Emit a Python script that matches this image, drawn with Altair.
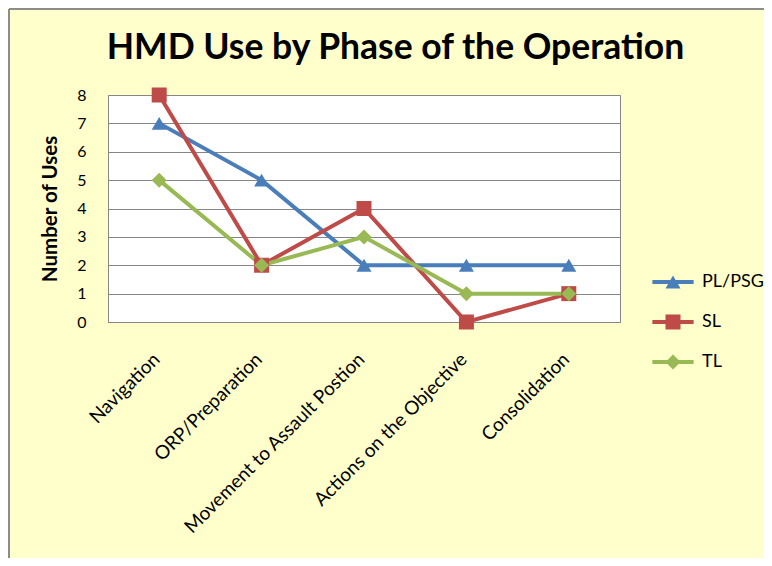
import altair as alt
import pandas as pd

phases = ["Navigation", "ORP/Preparation", "Movement to Assault Postion",
          "Actions on the Objective", "Consolidation"]
series = ["PL/PSG", "SL", "TL"]
pl_psg = [7, 5, 2, 2, 2]
sl = [8, 2, 4, 0, 1]
tl = [5, 2, 3, 1, 1]
y_ticks = [0, 1, 2, 3, 4, 5, 6, 7, 8]

colors = ["#4A7EBB", "#BE4B48", "#98B954"]
shapes = ["triangle-up", "square", "diamond"]
legend_shapes = [
    "M0,-0.866 L1,0.866 L-1,0.866 Z M-2.75,-0.27 L2.75,-0.27 L2.75,0.27 L-2.75,0.27 Z",
    "M-1,-1 L1,-1 L1,1 L-1,1 Z M-2.75,-0.27 L2.75,-0.27 L2.75,0.27 L-2.75,0.27 Z",
    "M-1,0 L0,-1 L1,0 L0,1 Z M-2.75,-0.27 L2.75,-0.27 L2.75,0.27 L-2.75,0.27 Z",
]

rows = []
for name, vals in zip(series, [pl_psg, sl, tl]):
    for p, v in zip(phases, vals):
        rows.append({"Phase": p, "Series": name, "Uses": v})
df = pd.DataFrame(rows)

FONT = "Lato"

x_enc = alt.X("Phase:N", sort=phases,
              scale=alt.Scale(type="point", padding=0.5),
              axis=alt.Axis(title=None, labelAngle=-45, labelFontSize=19,
                            labelFont=FONT, labelColor="#000000", ticks=False,
                            domain=False, grid=False, labelPadding=34, labelOffset=-3,
                            labelLimit=0, labelAlign="right", labelBaseline="middle"))
y_enc = alt.Y("Uses:Q", scale=alt.Scale(domain=[0, 8], nice=False),
              axis=alt.Axis(title="Number of Uses", values=y_ticks,
                            titleFont=FONT, titleFontSize=20.5, titleFontWeight="bold",
                            titleColor="#000000", labelFont=FONT, labelFontSize=16,
                            labelColor="#000000", ticks=False, domain=False,
                            gridColor="#868686", gridWidth=1, gridOpacity=1,
                            labelPadding=22, titlePadding=16))
color_scale = alt.Scale(domain=series, range=colors)

lines = alt.Chart(df).mark_line(strokeWidth=4).encode(
    x=x_enc, y=y_enc,
    color=alt.Color("Series:N", scale=color_scale, legend=None),
    detail="Series:N",
)
points = alt.Chart(df).mark_point(filled=True, size=225, opacity=1).encode(
    x=x_enc, y=y_enc,
    color=alt.Color("Series:N", scale=color_scale, legend=None),
    shape=alt.Shape("Series:N", scale=alt.Scale(domain=series, range=shapes), legend=None),
)
leg = dict(title=None, orient="none", legendX=556, legendY=178,
           padding=0, labelFont=FONT, labelFontSize=18,
           labelColor="#000000", labelOffset=20,
           rowPadding=22, symbolSize=225, symbolOpacity=1, symbolStrokeWidth=0)
legend_layer = alt.Chart(df).transform_filter("false").mark_point(
    filled=True, size=225, opacity=1).encode(
    x=x_enc, y=y_enc,
    color=alt.Color("Series:N", scale=color_scale, legend=alt.Legend(**leg)),
    shape=alt.Shape("Series:N", scale=alt.Scale(domain=series, range=legend_shapes),
                    legend=alt.Legend(**leg)),
)

border = alt.Chart(pd.DataFrame({"k": [0]})).mark_rule(color="#8C8C8C", strokeWidth=2).encode(
    x=alt.value(-99), x2=alt.value(700), y=alt.value(-86))
border_left = alt.Chart(pd.DataFrame({"k": [0]})).mark_rule(color="#8C8C8C", strokeWidth=2).encode(
    x=alt.value(-99), y=alt.value(-86), y2=alt.value(500))

chart = alt.layer(border, border_left, lines, points, legend_layer).resolve_scale(
    shape="independent"
).resolve_legend(
    color="independent", shape="independent"
).properties(
    width=512, height=227,
    autosize=alt.AutoSizeParams(type="none"),
    padding={"left": 100, "top": 87, "right": 144, "bottom": 236},
    background="#FFFFCC",
    title=alt.TitleParams("HMD Use by Phase of the Operation", font=FONT, fontSize=35.5,
                          fontWeight="bold", color="#000000", anchor="middle",
                          dx=31.5, offset=-58),
).configure_view(fill="#FFFFFF", stroke="#868686", strokeWidth=1)

chart.save("out.html", embed_options={"renderer": "svg", "actions": False})
